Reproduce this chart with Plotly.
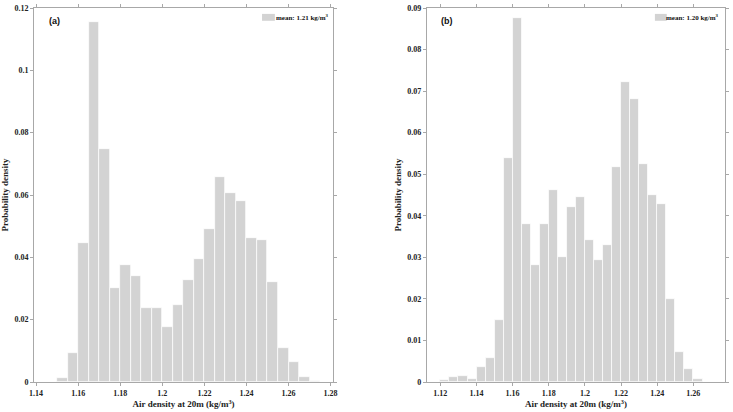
import plotly.graph_objects as go

# Panel (a): bin centres (kg/m3) and probability density
a_centers = [1.1525, 1.1575, 1.1625, 1.1675, 1.1725, 1.1775, 1.1825, 1.1875, 1.1925, 1.1975,
             1.2025, 1.2075, 1.2125, 1.2175, 1.2225, 1.2275, 1.2325, 1.2375, 1.2425, 1.2475,
             1.2525, 1.2575, 1.2625, 1.2675, 1.2725]
a_density = [0.0014, 0.0092, 0.0446, 0.1155, 0.0747, 0.0303, 0.0374, 0.0341, 0.0236, 0.0238,
             0.0175, 0.0246, 0.0326, 0.0396, 0.0490, 0.0658, 0.0605, 0.0581, 0.0462, 0.0455,
             0.0322, 0.0108, 0.0064, 0.0017, 0.0004]

# Panel (b)
b_centers = [1.1225, 1.1275, 1.1325, 1.1375, 1.1425, 1.1475, 1.1525, 1.1575, 1.1625, 1.1675,
             1.1725, 1.1775, 1.1825, 1.1875, 1.1925, 1.1975, 1.2025, 1.2075, 1.2125, 1.2175,
             1.2225, 1.2275, 1.2325, 1.2375, 1.2425, 1.2475, 1.2525, 1.2575, 1.2625]
b_density = [0.0006, 0.0011, 0.0015, 0.0008, 0.0036, 0.0057, 0.0150, 0.0539, 0.0877, 0.0381,
             0.0281, 0.0380, 0.0461, 0.0301, 0.0421, 0.0444, 0.0342, 0.0293, 0.0330, 0.0517,
             0.0721, 0.0680, 0.0524, 0.0450, 0.0429, 0.0200, 0.0072, 0.0032, 0.0008]
bin_width = 0.005

a_xticks = [1.14, 1.16, 1.18, 1.2, 1.22, 1.24, 1.26, 1.28]
a_yticks = [0, 0.02, 0.04, 0.06, 0.08, 0.1, 0.12]
b_xticks = [1.12, 1.14, 1.16, 1.18, 1.2, 1.22, 1.24, 1.26, 1.28]
b_yticks = [0, 0.01, 0.02, 0.03, 0.04, 0.05, 0.06, 0.07, 0.08, 0.09]

BAR = "#d3d3d3"
SPINE = "#a8a8a8"
SERIF = "Liberation Serif"

fig = go.Figure()
fig.add_trace(go.Bar(x=a_centers, y=a_density, width=bin_width, marker=dict(color=BAR, line=dict(color="white", width=0.7)),
                     xaxis="x", yaxis="y", showlegend=False))
fig.add_trace(go.Bar(x=b_centers, y=b_density, width=bin_width, marker=dict(color=BAR, line=dict(color="white", width=0.7)),
                     xaxis="x2", yaxis="y2", showlegend=False))

W, H = 733, 412
L, R, T, B = 29, 4, 4, 28
pw, ph = W - L - R, H - T - B

def px(x):
    return (x - L) / pw

def py(y):
    return (H - B - y) / ph

axis_common = dict(showgrid=False, zeroline=False, showline=True, linecolor=SPINE, linewidth=1,
                   mirror="ticks", ticks="outside", ticklen=3, tickcolor=SPINE,
                   tickfont=dict(family=SERIF, size=8, color="#222", weight="bold"))

xt = dict(text="<b>Air density at 20m (kg/m<sup>3</sup>)</b>", font=dict(family=SERIF, size=9, color="#222"), standoff=4)
yt = dict(text="<b>Probability density</b>", font=dict(family=SERIF, size=9, color="#222"), standoff=4)

fig.update_layout(
    width=W, height=H, margin=dict(l=L, r=R, t=T, b=B),
    plot_bgcolor="white", paper_bgcolor="white", bargap=0,
    xaxis=dict(domain=[0, px(332)], range=[1.139, 1.2812], tickvals=a_xticks, title=xt, anchor="y", **axis_common),
    yaxis=dict(domain=[0, 1], range=[0, 0.12], tickvals=a_yticks, title=yt, anchor="x", **axis_common),
    xaxis2=dict(domain=[px(427), 1], range=[1.1126, 1.2775], tickvals=b_xticks, title=xt, anchor="y2", **axis_common),
    yaxis2=dict(domain=[0, 1], range=[0, 0.09], tickvals=b_yticks, title=yt, anchor="x2", **axis_common),
)

annots = [
    dict(text="<b>(a)</b>", x=px(42), y=py(10), xanchor="left", yanchor="top", font=dict(family="Liberation Sans", size=9, color="#111")),
    dict(text="<b>(b)</b>", x=px(439), y=py(10), xanchor="left", yanchor="top", font=dict(family="Liberation Sans", size=9, color="#111")),
    dict(text="<b>mean: 1.21 kg/m<sup>3</sup></b>", x=px(330), y=py(13.5), xanchor="right", yanchor="middle", font=dict(family=SERIF, size=7, color="#111")),
    dict(text="<b>mean: 1.20 kg/m<sup>3</sup></b>", x=px(725), y=py(13.5), xanchor="right", yanchor="middle", font=dict(family=SERIF, size=7, color="#111")),
]
for a in annots:
    a.update(xref="paper", yref="paper", showarrow=False)
fig.update_layout(annotations=annots)

shapes = [
    dict(type="rect", x0=px(260), x1=px(273), y0=py(17), y1=py(10), fillcolor=BAR, line=dict(width=0)),
    dict(type="rect", x0=px(658), x1=px(670), y0=py(17), y1=py(10), fillcolor=BAR, line=dict(width=0)),
]
for s in shapes:
    s.update(xref="paper", yref="paper")
fig.update_layout(shapes=shapes)

fig.write_html("out.html")
